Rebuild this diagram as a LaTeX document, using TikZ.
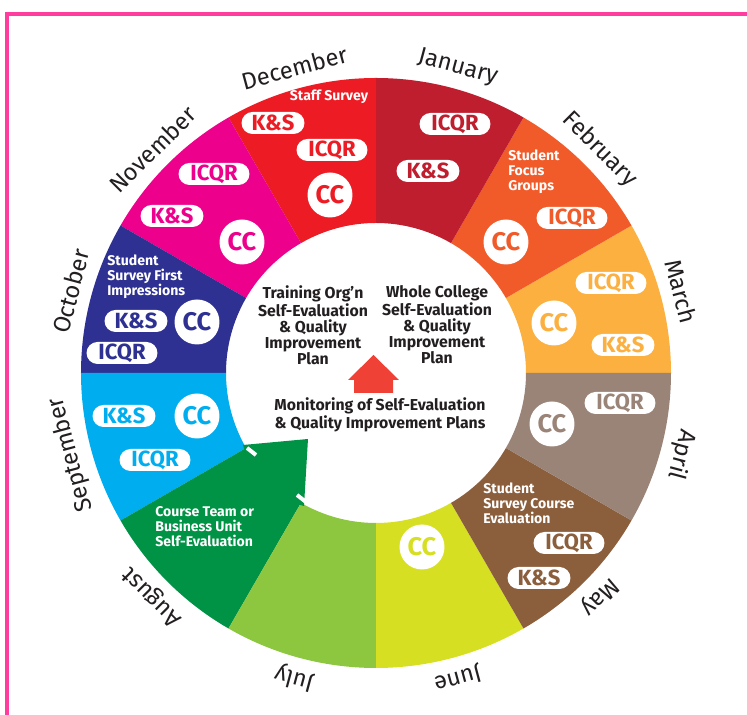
\documentclass[tikz,border=0pt]{standalone}
\usepackage{fontspec}
\setmainfont{Fira Sans}
\usetikzlibrary{shapes.misc}
\definecolor{jan}{HTML}{BE1E2D}
\definecolor{feb}{HTML}{F15A29}
\definecolor{mar}{HTML}{FBB040}
\definecolor{apr}{HTML}{9A8478}
\definecolor{may}{HTML}{8B5E3C}
\definecolor{jun}{HTML}{D7DF23}
\definecolor{jul}{HTML}{8DC63F}
\definecolor{aug}{HTML}{009245}
\definecolor{sep}{HTML}{00AEEF}
\definecolor{oct}{HTML}{2E3192}
\definecolor{nov}{HTML}{EC008C}
\definecolor{dec}{HTML}{ED1C24}
\definecolor{ink}{HTML}{231F20}
\definecolor{upred}{HTML}{EF4136}
\definecolor{framepink}{HTML}{FF3D9E}
\tikzset{
   pill/.style={rounded rectangle, fill=white, inner sep=0pt, minimum height=0.44cm,
      font=\bfseries\fontsize{12.5}{12.5}\selectfont},
   icqr/.style={pill, minimum width=1.42cm},
   ks/.style={pill, minimum width=1.26cm},
   cc/.style={circle, fill=white, inner sep=0pt, minimum size=0.9cm,
      font=\bfseries\fontsize{14.5}{14.5}\selectfont},
   month/.style={text=ink, inner sep=0pt, font=\fontsize{13.5}{13.5}\selectfont},
   note/.style={align=left, text=white, inner sep=0pt,
      font=\bfseries\fontsize{8}{8.5}\selectfont},
   plan/.style={align=center, text=ink, inner sep=0pt,
      font=\bfseries\fontsize{9}{9.1}\selectfont}
}
\begin{document}
\begin{tikzpicture}[x=0.02cm, y=0.02cm]
   \useasboundingbox (-376,-342) rectangle (371,373);
   \draw[framepink, line width=0.08cm] (-369,359) rectangle (390,-380);
   \begin{scope}
      \def \Sectors {
         0/mar/March,
         30/feb/February,
         60/jan/January,
         90/dec/December,
         120/nov/November,
         150/oct/October,
         180/sep/September,
         210/aug/August,
         240/jul/July,
         270/jun/June,
         300/may/May,
         330/apr/April}
      \foreach \a / \c / \m in \Sectors {
         \fill[\c] (\a:150) arc (\a:\a+30:150) -- (\a+30:295) arc (\a+30:\a:295) -- cycle;
         \node[month, rotate=\a-75] (\m) at (\a+15:316) {\m};
      }
      % arrow head of the August sector
      \fill[aug] (-133,-72) -- (-68,-66) -- (-72,-133) -- (239:153) arc (239:211:153) -- cycle;
      \draw[white, line width=0.08cm] (-129,-75) -- (-120,-82);
      \draw[white, line width=0.08cm] (-79,-122) -- (-70,-129);
   \end{scope}
   \begin{scope}
      \def \Badges {
         dks/-103/250/ks/K\&S/dec,
         dicqr/-44/223/icqr/ICQR/dec,
         dcc/-46/178/cc/CC/dec,
         jicqr/79/249/icqr/ICQR/jan,
         jks/52/202/ks/K\&S/jan,
         ficqr/196/155/icqr/ICQR/feb,
         fcc/130/131/cc/CC/feb,
         micqr/235/90/icqr/ICQR/mar,
         mcc/178/50/cc/CC/mar,
         mks/247/28/ks/K\&S/mar,
         aicqr/244/-30/icqr/ICQR/apr,
         acc/176/-51/cc/CC/apr,
         yicqr/193/-170/icqr/ICQR/may,
         yks/163/-205/ks/K\&S/may,
         ucc/46/-174/cc/CC/jun,
         sks/-252/-43/ks/K\&S/sep,
         scc/-179/-43/cc/CC/sep,
         sicqr/-221/-87/icqr/ICQR/sep,
         oks/-240/52/ks/K\&S/oct,
         occ/-179/51/cc/CC/oct,
         oicqr/-254/20/icqr/ICQR/oct,
         nicqr/-162/199/icqr/ICQR/nov,
         nks/-204/157/ks/K\&S/nov,
         ncc/-134/131/cc/CC/nov}
      \foreach \no / \x / \y / \s / \t / \c in \Badges {
         \node[\s, text=\c] (\no) at (\x, \y){\t};
      }
   \end{scope}
   \node[note] (staff) at (-47,276) {Staff Survey};
   \node[note, anchor=west] (focus) at (132,201) {Student\\Focus\\Groups};
   \node[note, anchor=west] (first) at (-269,96) {Student\\Survey First\\Impressions};
   \node[note, anchor=west] (course) at (107,-130) {Student\\Survey Course\\Evaluation};
   \node[note, anchor=west] (team) at (-221,-154) {Course Team or\\Business Unit\\Self-Evaluation};
   \node[plan] (training) at (-63,48) {Training Org’n\\Self-Evaluation\\\& Quality\\Improvement\\Plan};
   \node[plan] (college) at (61,48) {Whole College\\Self-Evaluation\\\& Quality\\Improvement\\Plan};
   \node[plan] (monitor) at (4,-42) {Monitoring of Self-Evaluation\\\& Quality Improvement Plans};
   \fill[upred] (-22,-20) -- (17,-20) -- (17,-7) -- (23,-7) -- (-2.5,18) -- (-28,-7) -- (-22,-7) -- cycle;
\end{tikzpicture}
\end{document}
